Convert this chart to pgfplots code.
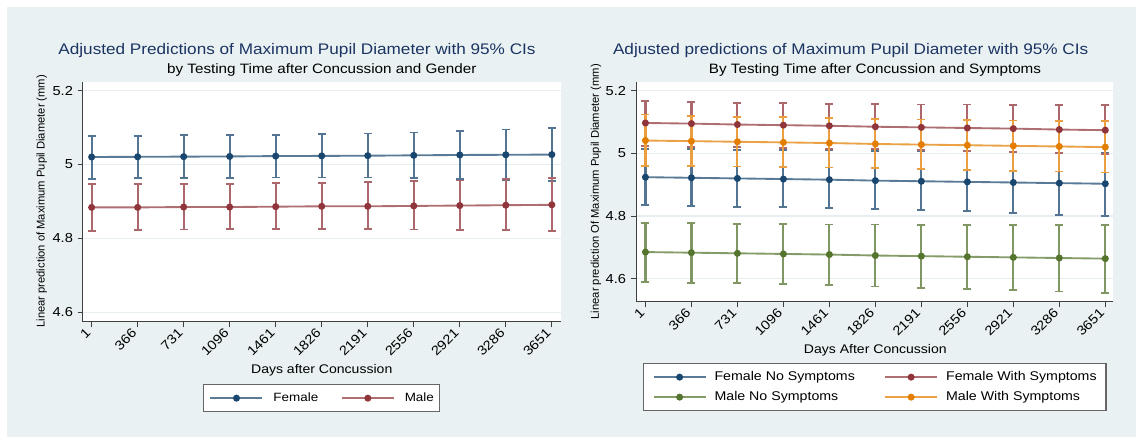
\documentclass[border=0pt]{standalone}
\usepackage{fontspec}
\setmainfont{Liberation Sans}[FakeStretch=1.12]
\newfontfamily\plainsans{Liberation Sans}
\usepackage{pgfplots}
\pgfplotsset{compat=1.18}
\usepackage{pgfplotstable}

\definecolor{bgc}{RGB}{233,241,243}
\definecolor{gridc}{RGB}{230,238,241}
\definecolor{titlec}{RGB}{28,52,98}
\definecolor{navyc}{RGB}{26,71,111}
\definecolor{maroonc}{RGB}{144,53,59}
\definecolor{greenc}{RGB}{85,117,47}
\definecolor{orangec}{RGB}{227,126,0}

% left panel: by gender
\pgfplotstableread{
x y lo hi
1 5.0205 4.962 5.078
366 5.021 4.963 5.078
731 5.0215 4.964 5.079
1096 5.022 4.964 5.079
1461 5.023 4.965 5.080
1826 5.0235 4.965 5.082
2191 5.024 4.965 5.084
2556 5.025 4.963 5.087
2921 5.026 4.960 5.091
3286 5.0265 4.958 5.095
3651 5.027 4.955 5.099
}\female
\pgfplotstableread{
x y lo hi
1 4.884 4.821 4.947
366 4.884 4.822 4.948
731 4.885 4.824 4.948
1096 4.885 4.825 4.948
1461 4.886 4.826 4.949
1826 4.887 4.826 4.950
2191 4.887 4.826 4.952
2556 4.888 4.824 4.955
2921 4.889 4.823 4.957
3286 4.890 4.822 4.960
3651 4.891 4.821 4.964
}\male

% right panel: by symptoms
\pgfplotstableread{
x y lo hi
1 4.924 4.834 5.015
366 4.922 4.832 5.013
731 4.920 4.830 5.012
1096 4.918 4.828 5.011
1461 4.916 4.825 5.010
1826 4.913 4.822 5.008
2191 4.911 4.818 5.007
2556 4.909 4.815 5.006
2921 4.907 4.810 5.004
3286 4.905 4.804 5.002
3651 4.903 4.799 5.000
}\femaleNo
\pgfplotstableread{
x y lo hi
1 5.097 5.023 5.168
366 5.095 5.021 5.165
731 5.092 5.019 5.162
1096 5.090 5.017 5.160
1461 5.088 5.015 5.158
1826 5.085 5.013 5.157
2191 5.083 5.010 5.156
2556 5.081 5.007 5.156
2921 5.079 5.004 5.155
3286 5.076 5.001 5.155
3651 5.074 4.998 5.155
}\femaleWith
\pgfplotstableread{
x y lo hi
1 4.685 4.589 4.779
366 4.683 4.587 4.777
731 4.681 4.585 4.775
1096 4.679 4.582 4.774
1461 4.677 4.579 4.773
1826 4.674 4.575 4.773
2191 4.672 4.571 4.772
2556 4.670 4.568 4.772
2921 4.668 4.564 4.770
3286 4.666 4.559 4.770
3651 4.664 4.554 4.770
}\maleNo
\pgfplotstableread{
x y lo hi
1 5.041 4.960 5.124
366 5.039 4.959 5.120
731 5.037 4.958 5.117
1096 5.035 4.957 5.115
1461 5.033 4.955 5.112
1826 5.030 4.953 5.110
2191 5.028 4.951 5.108
2556 5.026 4.948 5.106
2921 5.024 4.945 5.105
3286 5.022 4.942 5.104
3651 5.020 4.939 5.103
}\maleWith

\pgfplotsset{
  stata/.style={
    scale only axis,
    axis lines=left,
    axis line style={-, draw=black!75, line width=0.75pt},
    tick align=outside,
    major tick length=4pt,
    tick style={black!75, line width=0.75pt},
    axis background/.style={fill=white},
    ymajorgrids,
    grid style={gridc, line width=0.9pt},
    xtick={1,366,...,3651},
    ytick={4.6,4.8,5,5.2},
    scaled x ticks=false,
    /pgf/number format/1000 sep={},
    /pgf/number format/assume math mode=true,
    ticklabel style={font=\fontsize{9.8}{11}\selectfont},
    xticklabel style={rotate=45, anchor=east},
    legend cell align=left,
    legend image code/.code={
      \draw[##1, mark repeat=2, mark phase=2]
        plot coordinates {(0pt,0pt) (19.5pt,0pt) (39pt,0pt)};
    },
  },
  ser/.style={
    color=#1!72!white, line width=1.4pt,
    mark=*, mark size=1.9pt,
    mark options={fill=#1, draw=#1},
    error bars/.cd, y dir=both, y explicit,
    error bar style={color=#1!75!white, solid, line width=1.6pt},
    error mark options={rotate=90, color=#1!75!white, solid, line width=1.4pt, mark size=3pt},
  },
  /pgfplots/table/ci/.style={x=x, y=y,
    y error plus expr=\thisrow{hi}-\thisrow{y},
    y error minus expr=\thisrow{y}-\thisrow{lo}},
}

\begin{document}
\begin{tikzpicture}
\path[use as bounding box] (0pt,0pt) rectangle (853.5pt,328.5pt);
\fill[white] (0pt,0pt) rectangle (853.5pt,328.5pt);
\fill[bgc] (5.25pt,0.75pt) rectangle (852pt,323.25pt);

\begin{axis}[stata,
  at={(62.2pt,87pt)}, anchor=south west,
  width=358.2pt, height=180pt,
  xmin=-68, xmax=3720, ymin=4.5737, ymax=5.2236,
  legend style={at={(0.5,-0.2596)}, anchor=north, legend columns=2,
    draw=black!60, line width=0.8pt, fill=white,
    inner xsep=4.5pt, inner ysep=5.5pt,
    font=\fontsize{9}{11}\selectfont,
    nodes={inner sep=0pt, text height=7pt, text depth=2pt},
    /tikz/every odd column/.append style={column sep=7.5pt},
    /tikz/every even column/.append style={column sep=17pt}},
]
\addplot[ser=navyc] table[ci] {\female};
\addplot[ser=maroonc] table[ci] {\male};
\legend{Female, Male}
\end{axis}

\begin{axis}[stata,
  at={(477pt,102pt)}, anchor=south west,
  width=358pt, height=165pt,
  xmin=-74, xmax=3715, ymin=4.5256, ymax=5.2278,
  legend style={at={(0.5,-0.2786)}, anchor=north, legend columns=2,
    draw=black!60, line width=0.8pt, fill=white,
    inner xsep=7pt, inner ysep=5.5pt,
    font=\fontsize{9.5}{11}\selectfont,
    nodes={inner sep=0pt, text height=7pt, text depth=2pt},
    /tikz/every odd column/.append style={column sep=6pt},
    /tikz/every even column/.append style={column sep=22pt},
    row sep=6pt},
]
\addplot[ser=navyc] table[ci] {\femaleNo};
\addplot[ser=maroonc] table[ci] {\femaleWith};
\addplot[ser=greenc] table[ci] {\maleNo};
\addplot[ser=orangec] table[ci] {\maleWith};
\legend{Female No Symptoms, Female With Symptoms, Male No Symptoms, Male With Symptoms}
\end{axis}

% titles and axis labels
\node[anchor=base, text=titlec, font=\fontsize{11.5}{13}\selectfont] at (222.75pt,287.25pt)
  {Adjusted Predictions of Maximum Pupil Diameter with 95\% CIs};
\node[anchor=base, font=\fontsize{10.2}{12}\selectfont] at (241.3pt,273pt)
  {by Testing Time after Concussion and Gender};
\node[rotate=90, font=\plainsans\fontsize{8.4}{10}\selectfont] at (31.35pt,177.5pt)
  {Linear prediction of Maximum Pupil Diameter (mm)};
\node[anchor=base, font=\fontsize{9.4}{11}\selectfont] at (241.3pt,48pt)
  {Days after Concussion};

\node[anchor=base, text=titlec, font=\fontsize{11.5}{13}\selectfont] at (638pt,287.25pt)
  {Adjusted predictions of Maximum Pupil Diameter with 95\% CIs};
\node[anchor=base, font=\fontsize{10.2}{12}\selectfont] at (656.25pt,273pt)
  {By Testing Time after Concussion and Symptoms};
\node[rotate=90, font=\plainsans\fontsize{8.4}{10}\selectfont] at (447pt,184.7pt)
  {Linear prediction Of Maximum Pupil Diameter (mm)};
\node[anchor=base, font=\fontsize{9.4}{11}\selectfont] at (656.5pt,63pt)
  {Days After Concussion};
\end{tikzpicture}
\end{document}
